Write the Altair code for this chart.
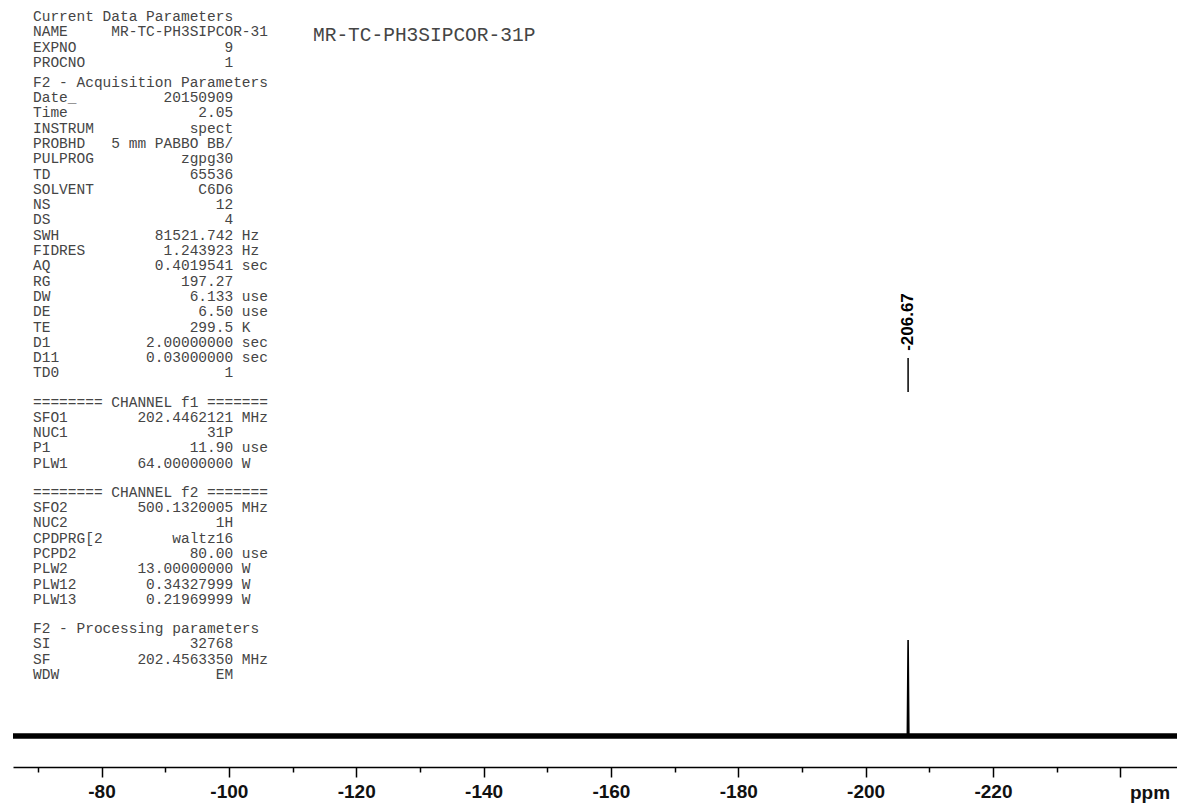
import altair as alt
import pandas as pd

# ---------------- spectrum (31P{1H}, ppm) ----------------
spec_ppm = [-66.1, -206.55, -206.67, -206.79, -248.9]
spec_int = [0.0, 0.0, 1.0, 0.0, 0.0]

# baseline noise envelope (relative intensity)
noise_ppm = [-66.1, -248.9]
noise_lo = [-0.028, -0.028]
noise_hi = [0.028, 0.028]

# picked peak
peak_ppm = [-206.67]

# axis ticks (ppm)
tick_values = [-70, -80, -90, -100, -110, -120, -130, -140, -150, -160,
               -170, -180, -190, -200, -210, -220, -230, -240]

# ---------------- acquisition / processing parameters ----------------
sec_current_names = ["Current Data Parameters", "NAME", "EXPNO", "PROCNO"]
sec_current_vals = ["", "MR-TC-PH3SIPCOR-31", "9", "1"]
sec_current_units = ["", "", "", ""]

sec_acq_names = ["F2 - Acquisition Parameters", "Date_", "Time", "INSTRUM", "PROBHD",
                 "PULPROG", "TD", "SOLVENT", "NS", "DS", "SWH", "FIDRES", "AQ", "RG",
                 "DW", "DE", "TE", "D1", "D11", "TD0"]
sec_acq_vals = ["", "20150909", "2.05", "spect", "5 mm PABBO BB/", "zgpg30", "65536",
                "C6D6", "12", "4", "81521.742", "1.243923", "0.4019541", "197.27",
                "6.133", "6.50", "299.5", "2.00000000", "0.03000000", "1"]
sec_acq_units = ["", "", "", "", "", "", "", "", "", "", "Hz", "Hz", "sec", "",
                 "use", "use", "K", "sec", "sec", ""]

sec_f1_names = ["======== CHANNEL f1 =======", "SFO1", "NUC1", "P1", "PLW1"]
sec_f1_vals = ["", "202.4462121", "31P", "11.90", "64.00000000"]
sec_f1_units = ["", "MHz", "", "use", "W"]

sec_f2_names = ["======== CHANNEL f2 =======", "SFO2", "NUC2", "CPDPRG[2", "PCPD2",
                "PLW2", "PLW12", "PLW13"]
sec_f2_vals = ["", "500.1320005", "1H", "waltz16", "80.00", "13.00000000",
               "0.34327999", "0.21969999"]
sec_f2_units = ["", "MHz", "", "", "use", "W", "W", "W"]

sec_proc_names = ["F2 - Processing parameters", "SI", "SF", "WDW"]
sec_proc_vals = ["", "32768", "202.4563350", "EM"]
sec_proc_units = ["", "", "MHz", ""]

# (extra blank space before section in line units, names, values, units)
sections = [
    (0.0, sec_current_names, sec_current_vals, sec_current_units),
    (0.3, sec_acq_names, sec_acq_vals, sec_acq_units),
    (0.9, sec_f1_names, sec_f1_vals, sec_f1_units),
    (0.9, sec_f2_names, sec_f2_vals, sec_f2_units),
    (0.9, sec_proc_names, sec_proc_vals, sec_proc_units),
]

dataset_title = "MR-TC-PH3SIPCOR-31P"

# ---------------- tables ----------------
NBSP = "\u00a0"


def fmt_row(name, val, unit):
    # fixed-column listing: 9-char label field, 14-char right-aligned value, unit
    if not val:
        s = name
    else:
        s = name.ljust(9) + val.rjust(14)
        if unit:
            s += " " + unit
    return s.replace(" ", NBSP)


rows, pos = [], []
p = -1.0
for gap, names, vals, units in sections:
    p += gap
    for n, v, u in zip(names, vals, units):
        p += 1.0
        rows.append(fmt_row(n, v, u))
        pos.append(p)
params_df = pd.DataFrame({"line": rows, "pos": pos})

spec_df = pd.DataFrame({"ppm": spec_ppm, "intensity": spec_int})
noise_df = pd.DataFrame({"ppm": noise_ppm, "lo": noise_lo, "hi": noise_hi})
peak_df = pd.DataFrame({"ppm": peak_ppm,
                        "label": [f"{v:.2f}" for v in peak_ppm]})

# ---------------- scales ----------------
x_scale = alt.Scale(domain=[-66.1, -248.9], nice=False, zero=False)
y_scale = alt.Scale(domain=[0, 1], range=[736, 640], nice=False, zero=False)

x_axis = alt.Axis(
    values=tick_values,
    title=None,
    grid=False,
    labelExpr="(datum.value % 20 == 0 && datum.value > -240) ? '-' + abs(datum.value) : ''",
    tickSize=alt.condition("datum.value % 20 == 0", alt.value(10), alt.value(5)),
    tickColor="black",
    tickWidth=1.5,
    domainColor="black",
    domainWidth=1.5,
    labelFont="Liberation Sans",
    labelFontSize=19,
    labelFontWeight="bold",
    labelColor="#111111",
    labelPadding=5,
    labelFlush=False,
    labelOverlap=False,
)

noise = alt.Chart(noise_df).mark_area(color="black").encode(
    x=alt.X("ppm:Q", scale=x_scale, axis=x_axis),
    y=alt.Y("lo:Q", scale=y_scale, axis=None),
    y2="hi:Q",
)

spectrum = alt.Chart(spec_df).mark_line(color="black", strokeWidth=1.6).encode(
    x=alt.X("ppm:Q", scale=x_scale),
    y=alt.Y("intensity:Q", scale=y_scale, axis=None),
)

peak_tick = alt.Chart(peak_df).mark_rule(color="black", strokeWidth=1.5).encode(
    x=alt.X("ppm:Q", scale=x_scale),
    y=alt.value(358),
    y2=alt.value(392),
)

peak_text = alt.Chart(peak_df).mark_text(
    angle=270, align="center", baseline="middle",
    font="Liberation Sans", fontSize=17, fontWeight="bold", color="black",
).encode(
    x=alt.X("ppm:Q", scale=x_scale),
    y=alt.value(322),
    text="label:N",
)

params = alt.Chart(params_df).mark_text(
    align="left", baseline="middle",
    font="Liberation Mono", fontSize=14.5, color="#454545",
).encode(
    x=alt.value(20),
    y=alt.Y("pos:Q", scale=alt.Scale(domain=[0, 1], range=[17, 32.3], nice=False, zero=False), axis=None),
    text="line:N",
)

title_df = pd.DataFrame({"t": [dataset_title]})
title = alt.Chart(title_df).mark_text(
    align="left", baseline="middle",
    font="Liberation Mono", fontSize=19.5, color="#454545",
).encode(x=alt.value(300), y=alt.value(35), text="t:N")

unit_df = pd.DataFrame({"t": ["ppm"]})
unit = alt.Chart(unit_df).mark_text(
    align="center", baseline="middle",
    font="Liberation Sans", fontSize=19, fontWeight="bold", color="#111111",
).encode(x=alt.value(1137), y=alt.value(793), text="t:N")

chart = alt.layer(
    noise, spectrum, peak_tick, peak_text, params, title, unit
).resolve_scale(y="independent").properties(
    width=1164, height=767,
    padding={"left": 13, "top": 0, "right": 0, "bottom": 36},
    autosize=alt.AutoSizeParams(type="none"),
    background="white",
).configure_view(stroke=None)

chart.save("out.html", embed_options={"renderer": "svg", "actions": False})
